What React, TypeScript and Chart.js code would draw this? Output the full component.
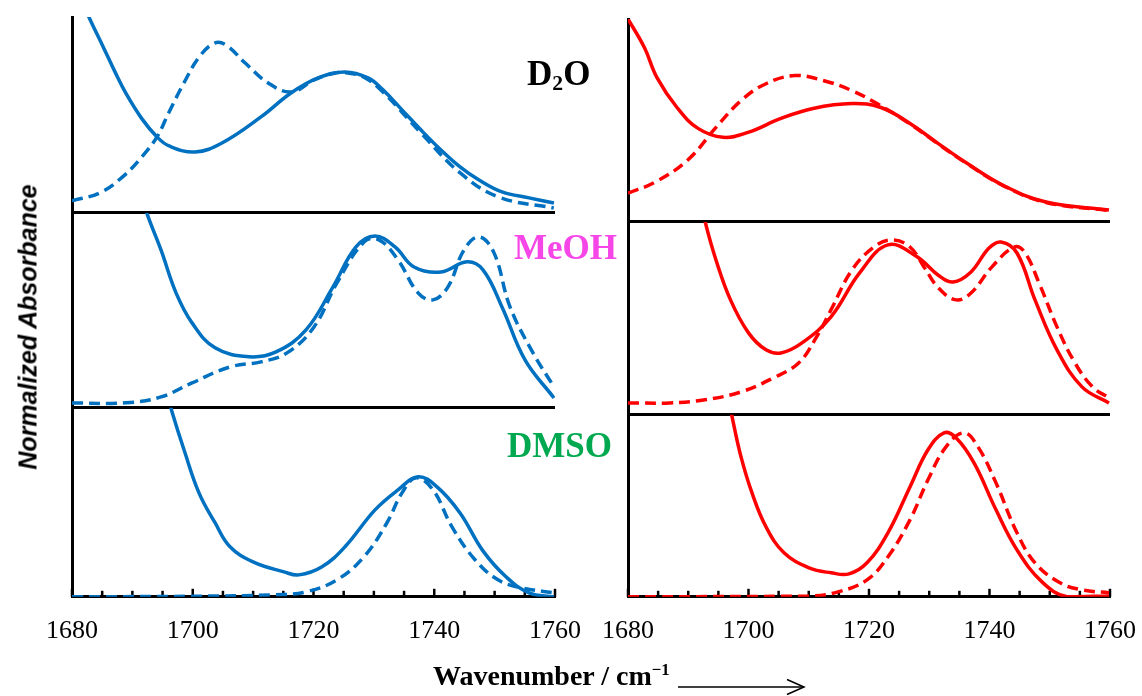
import React, { useEffect, useRef } from 'react';
import { Chart, registerables } from 'chart.js';

Chart.register(...registerables);

type Pt = [number, number];

// x axis
const xMin = 1680;
const xMax = 1760;
const xStep = 5;
const xTickLabels = [1680, 1700, 1720, 1740, 1760];

// solvent panel labels (top to bottom)
const solventLabels = ['D2O', 'MeOH', 'DMSO'];

// ---------- left panel (blue) ----------
const blueD2OSolid: Pt[] = [
  [1681.8, 1.08], [1682.65, 1.01], [1685.13, 0.85], [1687.12, 0.72], [1688.94, 0.61],
  [1691.59, 0.48], [1694.08, 0.388], [1696.07, 0.342], [1700.37, 0.311], [1704.84, 0.357],
  [1711.3, 0.49], [1716.27, 0.612], [1720.75, 0.689], [1725.22, 0.719], [1729.03, 0.689],
  [1731.51, 0.628], [1734.66, 0.526], [1737.81, 0.423], [1741.12, 0.321], [1744.27, 0.235],
  [1747.41, 0.168], [1751.22, 0.107], [1755.69, 0.077], [1759.83, 0.051],
];
const blueD2ODashed: Pt[] = [
  [1680, 0.062], [1684.57, 0.102], [1688.38, 0.184], [1691.56, 0.286], [1694.08, 0.388],
  [1696.0, 0.51], [1698.53, 0.663], [1701.07, 0.796], [1703.62, 0.867], [1705.51, 0.857],
  [1708.69, 0.765], [1712.5, 0.663], [1716.31, 0.617], [1720.12, 0.679], [1723.28, 0.712],
  [1725.5, 0.715], [1728.5, 0.69], [1731.5, 0.617], [1737.8, 0.408], [1744.3, 0.204],
  [1750.6, 0.082], [1759.8, 0.025],
];
const blueMeOHSolid: Pt[] = [
  [1692.0, 1.05], [1692.5, 0.99], [1694.74, 0.81], [1697.23, 0.59], [1699.88, 0.436],
  [1703.69, 0.308], [1709.32, 0.262], [1713.79, 0.287], [1718.76, 0.4], [1723.23, 0.621],
  [1727.04, 0.826], [1730.19, 0.882], [1733.5, 0.826], [1736.65, 0.723], [1741.12, 0.697],
  [1745.42, 0.749], [1748.07, 0.708], [1751.22, 0.518], [1755.03, 0.246], [1759.83, 0.051],
];
const blueMeOHDashed: Pt[] = [
  [1680, 0.025], [1688.94, 0.026], [1694.74, 0.056], [1699.88, 0.128], [1706.17, 0.21],
  [1711.3, 0.236], [1715.61, 0.282], [1720.08, 0.415], [1723.89, 0.641], [1728.36, 0.851],
  [1730.85, 0.862], [1734.0, 0.759], [1737.31, 0.59], [1739.79, 0.554], [1742.28, 0.621],
  [1744.93, 0.81], [1747.41, 0.877], [1749.9, 0.795], [1752.55, 0.518], [1756.36, 0.282],
  [1759.83, 0.108],
];
const blueDMSOSolid: Pt[] = [
  [1696.2, 1.03], [1696.56, 0.979], [1698.55, 0.778], [1701.03, 0.55], [1703.69, 0.392],
  [1706.17, 0.265], [1709.98, 0.185], [1715.11, 0.132], [1717.6, 0.116], [1721.41, 0.159],
  [1725.22, 0.265], [1730.19, 0.46], [1734.0, 0.566], [1737.31, 0.635], [1740.46, 0.582],
  [1744.27, 0.444], [1748.07, 0.243], [1751.88, 0.106], [1755.69, 0.021], [1759.83, 0.0],
];
const blueDMSODashed: Pt[] = [
  [1680, 0.0], [1700, 0.003], [1713.79, 0.011], [1718.76, 0.026], [1723.89, 0.09],
  [1728.36, 0.212], [1732.17, 0.392], [1734.66, 0.55], [1736.98, 0.63], [1739.79, 0.566],
  [1742.94, 0.37], [1746.75, 0.196], [1750.56, 0.09], [1754.37, 0.048], [1759.83, 0.021],
];

// ---------- right panel (red) ----------
const redD2OSolid: Pt[] = [
  [1680, 1.0], [1682.74, 0.858], [1684.81, 0.711], [1688.13, 0.564], [1691.62, 0.461],
  [1695.77, 0.417], [1699.92, 0.441], [1705.39, 0.51], [1710.71, 0.559], [1717.18, 0.583],
  [1721.99, 0.564], [1726.8, 0.485], [1731.45, 0.387], [1736.27, 0.289], [1742.24, 0.181],
  [1749.38, 0.098], [1759.83, 0.059],
];
const redD2ODashed: Pt[] = [
  [1680, 0.142], [1684.48, 0.196], [1689.88, 0.304], [1694.61, 0.466], [1698.76, 0.598],
  [1702.9, 0.681], [1707.72, 0.721], [1712.53, 0.696], [1717.18, 0.647], [1721.33, 0.583],
  [1726.8, 0.483], [1731.45, 0.385], [1736.27, 0.287], [1742.24, 0.179], [1749.38, 0.096],
  [1759.83, 0.056],
];
const redMeOHSolid: Pt[] = [
  [1692.6, 1.05], [1692.85, 0.995], [1694.6, 0.803], [1697.01, 0.596], [1700.0, 0.425],
  [1702.9, 0.337], [1705.39, 0.321], [1708.88, 0.373], [1713.69, 0.508], [1718.44, 0.736],
  [1723.15, 0.881], [1727.97, 0.819], [1731.45, 0.725], [1733.94, 0.689], [1736.93, 0.741],
  [1739.92, 0.865], [1741.91, 0.896], [1744.56, 0.839], [1747.55, 0.596], [1751.2, 0.337],
  [1755.35, 0.145], [1759.83, 0.062],
];
const redMeOHDashed: Pt[] = [
  [1680, 0.062], [1686.9, 0.062], [1692.78, 0.078], [1698.76, 0.119], [1704.15, 0.192],
  [1708.32, 0.269], [1711.3, 0.404], [1713.69, 0.544], [1717.18, 0.751], [1720.83, 0.87],
  [1723.82, 0.907], [1726.8, 0.87], [1729.13, 0.767], [1731.52, 0.658], [1734.44, 0.596],
  [1736.93, 0.632], [1740.41, 0.767], [1744.07, 0.87], [1745.79, 0.845], [1748.22, 0.684],
  [1751.2, 0.456], [1754.19, 0.269], [1757.1, 0.145], [1759.83, 0.088],
];
const redDMSOSolid: Pt[] = [
  [1697.0, 1.04], [1697.31, 0.984], [1698.76, 0.769], [1700.58, 0.571], [1702.9, 0.385],
  [1705.89, 0.242], [1710.04, 0.159], [1713.69, 0.132], [1716.68, 0.126], [1719.67, 0.187],
  [1723.15, 0.352], [1726.8, 0.604], [1729.79, 0.808], [1732.45, 0.901], [1734.44, 0.874],
  [1737.43, 0.736], [1741.08, 0.478], [1744.56, 0.258], [1748.71, 0.082], [1752.86, 0.0],
  [1759.83, 0.005],
];
const redDMSODashed: Pt[] = [
  [1680, 0.0], [1710.04, 0.004], [1714.85, 0.027], [1719.67, 0.093], [1723.15, 0.22],
  [1726.8, 0.423], [1729.79, 0.643], [1732.78, 0.824], [1735.77, 0.901], [1738.09, 0.824],
  [1741.08, 0.626], [1744.56, 0.352], [1747.55, 0.187], [1751.7, 0.077], [1755.35, 0.038],
  [1759.83, 0.022],
];

const BLUE = '#0070C0';
const RED = '#FF0000';

const innerTicks = {
  id: 'innerTicks',
  beforeDatasetsDraw(chart: any) {
    const s = chart.scales.x;
    const ctx = chart.ctx;
    ctx.save();
    ctx.strokeStyle = '#000';
    ctx.lineWidth = 2.5;
    s.ticks.forEach((t: any) => {
      const px = s.getPixelForValue(t.value);
      const len = xTickLabels.includes(t.value) ? 8 : 6;
      ctx.beginPath();
      ctx.moveTo(px, s.top);
      ctx.lineTo(px, s.top - len);
      ctx.stroke();
    });
    ctx.restore();
  },
};

function buildConfig(
  color: string,
  series: [Pt[], Pt[]][],
  stackWeights: number[],
  padding: { left: number; right: number; top: number; bottom: number },
) {
  const ids = ['yD2O', 'yMeOH', 'yDMSO'];
  const datasets: any[] = [];
  series.forEach(([solid, dashed], i) => {
    datasets.push({
      label: solventLabels[i] + ' solid',
      data: solid.map(([x, y]) => ({ x, y })),
      yAxisID: ids[i],
      borderColor: color,
      borderWidth: 3.5,
      pointRadius: 0,
      fill: false,
    });
    datasets.push({
      label: solventLabels[i] + ' dashed',
      data: dashed.map(([x, y]) => ({ x, y })),
      yAxisID: ids[i],
      borderColor: color,
      borderWidth: 3.5,
      borderDash: [11, 6],
      pointRadius: 0,
      fill: false,
    });
  });
  const yScale = (i: number) => ({
    type: 'linear',
    position: 'left',
    stack: 'panel',
    stackWeight: stackWeights[i],
    weight: 3 - i,
    min: 0,
    max: 1,
    ticks: { display: false },
    grid: {
      display: true,
      drawTicks: false,
      lineWidth: 3,
      color: (c: any) => (c.tick && c.tick.value === 0 ? '#000' : 'rgba(0,0,0,0)'),
    },
    border: { display: true, color: '#000', width: 3 },
  });
  return {
    type: 'line',
    data: { datasets },
    options: {
      responsive: false,
      animation: false,
      events: [],
      layout: { padding },
      elements: { line: { tension: 0.4 }, point: { radius: 0 } },
      plugins: { legend: { display: false }, tooltip: { enabled: false } },
      scales: {
        x: {
          type: 'linear',
          position: 'bottom',
          min: xMin,
          max: xMax,
          ticks: {
            stepSize: xStep,
            autoSkip: false,
            maxRotation: 0,
            padding: 19,
            color: '#000',
            font: { family: "'Liberation Serif', 'Times New Roman', serif", size: 26 },
            callback: (v: any) => (xTickLabels.includes(v) ? String(v) : ''),
          },
          grid: { display: true, drawTicks: false, color: 'rgba(0,0,0,0)' },
          border: { display: true, color: '#000', width: 3 },
        },
        yD2O: yScale(0),
        yMeOH: yScale(1),
        yDMSO: yScale(2),
      },
    },
    plugins: [innerTicks],
  };
}

export default function App() {
  const leftRef = useRef<HTMLCanvasElement>(null);
  const rightRef = useRef<HTMLCanvasElement>(null);

  useEffect(() => {
    const left = new Chart(
      leftRef.current as HTMLCanvasElement,
      buildConfig(
        BLUE,
        [
          [blueD2OSolid, blueD2ODashed],
          [blueMeOHSolid, blueMeOHDashed],
          [blueDMSOSolid, blueDMSODashed],
        ],
        [196, 195, 189],
        { left: 72, right: 60, top: 17, bottom: 30 },
      ) as any,
    );
    const right = new Chart(
      rightRef.current as HTMLCanvasElement,
      buildConfig(
        RED,
        [
          [redD2OSolid, redD2ODashed],
          [redMeOHSolid, redMeOHDashed],
          [redDMSOSolid, redDMSODashed],
        ],
        [203, 193, 182],
        { left: 68, right: 60, top: 19, bottom: 30 },
      ) as any,
    );
    return () => {
      left.destroy();
      right.destroy();
    };
  }, []);

  const serif = "'Liberation Serif', 'Times New Roman', serif";
  const labelBase: React.CSSProperties = {
    position: 'absolute',
    fontFamily: serif,
    fontWeight: 'bold',
    lineHeight: 1,
    whiteSpace: 'nowrap',
  };

  return (
    <div
      style={{
        position: 'fixed',
        left: 0,
        top: 0,
        width: 1142,
        height: 696,
        background: '#fff',
        overflow: 'hidden',
      }}
    >
      <canvas
        ref={leftRef}
        width={615}
        height={696}
        style={{ position: 'absolute', left: 0, top: 0, width: 615, height: 696 }}
      />
      <canvas
        ref={rightRef}
        width={610}
        height={696}
        style={{ position: 'absolute', left: 560, top: 0, width: 610, height: 696 }}
      />
      <div style={{ ...labelBase, left: 527, top: 56, fontSize: 35, color: '#000' }}>
        D<sub style={{ fontSize: '0.62em', verticalAlign: '-0.22em', lineHeight: 0 }}>2</sub>O
      </div>
      <div style={{ ...labelBase, left: 514, top: 230, fontSize: 35, color: '#F646E8' }}>MeOH</div>
      <div style={{ ...labelBase, left: 507, top: 428, fontSize: 35, color: '#00A850' }}>DMSO</div>
      <div style={{ ...labelBase, left: 433, top: 662, fontSize: 28, color: '#000' }}>
        Wavenumber / cm
        <sup style={{ fontSize: '0.6em', verticalAlign: '0.6em', lineHeight: 0 }}>−1</sup>
      </div>
      <svg
        width={132}
        height={22}
        style={{ position: 'absolute', left: 676, top: 676 }}
      >
        <line x1={2} y1={11} x2={128} y2={11} stroke="#000" strokeWidth={1.5} />
        <polyline points="111,3.5 128,11 111,18.5" fill="none" stroke="#000" strokeWidth={1.5} />
      </svg>
      <div
        style={{
          position: 'absolute',
          left: 28,
          top: 327,
          transform: 'translate(-50%, -50%) rotate(-90deg)',
          fontFamily: "'Liberation Sans', Arial, sans-serif",
          fontWeight: 'bold',
          fontStyle: 'italic',
          fontSize: 25,
          lineHeight: 1,
          whiteSpace: 'nowrap',
          color: '#000',
        }}
      >
        Normalized Absorbance
      </div>
    </div>
  );
}
